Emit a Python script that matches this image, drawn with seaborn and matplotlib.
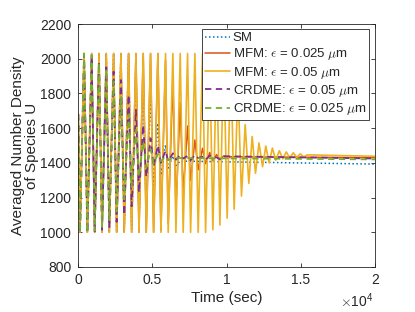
import matplotlib
matplotlib.use("Agg")
import matplotlib.pyplot as plt
import seaborn as sns
import pandas as pd

# ---------------- data ----------------
T_END = 20000
START_VALUE = 1680

# times of the successive troughs and peaks (sec)
TROUGH_T = [115, 610, 1105, 1600, 2090, 2585, 3095, 3595, 4090, 4580, 5075,
            5570, 6060, 6580, 7070, 7570, 8080, 8580, 9070, 9545, 10035,
            10505, 11000, 11495, 11945, 12420, 12860, 13310, 13785, 14255,
            14725, 15200]
PEAK_T = [390, 900, 1395, 1885, 2380, 2875, 3390, 3885, 4375, 4870, 5365,
          5880, 6375, 6870, 7365, 7860, 8375, 8860, 9320, 9800, 10280,
          10760, 11250, 11720, 12180, 12640, 13085, 13550, 14020, 14490,
          14960, 15430]

# SM
SM_TROUGH = [1000, 1000, 1000, 1000, 1000, 1000, 1000, 1020, 1060, 1130,
             1250, 1330, 1370, 1385]
SM_PEAK = [2030, 2030, 2030, 2030, 2030, 2030, 2030, 1960, 1900, 1800,
           1628, 1503, 1440, 1410]
SM_FINAL = 1393

# MFM eps = 0.025
MFM1_TROUGH = [1000, 1000, 1000, 1000, 1000, 1000, 1000, 1000, 1000, 1000,
               1000, 1010, 1050, 1130, 1226, 1300, 1360, 1395, 1412, 1420,
               1425]
MFM1_PEAK = [2030, 2030, 2030, 2030, 2030, 2030, 2030, 2030, 2030, 2030,
             2030, 1990, 1881, 1747, 1612, 1532, 1484, 1460, 1448, 1440,
             1435]
MFM1_FINAL = 1430

# MFM eps = 0.05
MFM2_TROUGH = [1000, 1000, 1000, 1000, 1000, 1000, 1000, 1000, 1000, 1000,
               1000, 1000, 1000, 1000, 1000, 1000, 1000, 1000, 1015, 1042,
               1082, 1133, 1209, 1282, 1340, 1378, 1401, 1415, 1423, 1428,
               1432, 1434]
MFM2_PEAK = [2030, 2030, 2030, 2030, 2030, 2030, 2030, 2030, 2030, 2030,
             2030, 2030, 2030, 2030, 2030, 2030, 2030, 2030, 2030, 2030,
             2030, 1850, 1620, 1552, 1515, 1497, 1485, 1470, 1463, 1458,
             1452, 1446]
MFM2_FINAL = 1438

# CRDME eps = 0.05
CR1_TROUGH = [1000, 1000, 1005, 1015, 1030, 1060, 1100, 1150, 1230, 1320,
              1378, 1400, 1412, 1418, 1425, 1415, 1428, 1418, 1430, 1420]
CR1_PEAK = [2025, 2010, 1985, 1950, 1925, 1877, 1791, 1705, 1618, 1542,
            1500, 1470, 1455, 1445, 1440, 1445, 1435, 1442, 1432, 1438]
CR1_FINAL = 1425

# CRDME eps = 0.025
CR2_TROUGH = [1000, 1000, 1010, 1030, 1070, 1120, 1190, 1260, 1320, 1370,
              1395, 1410, 1415]
CR2_PEAK = [2030, 2020, 1975, 1940, 1870, 1780, 1680, 1590, 1520, 1480,
            1450, 1435, 1428]
CR2_FINAL = 1420

LABELS = ["SM",
          r"MFM: $\epsilon$ = 0.025 $\mu$m",
          r"MFM: $\epsilon$ = 0.05 $\mu$m",
          r"CRDME: $\epsilon$ = 0.05 $\mu$m",
          r"CRDME: $\epsilon$ = 0.025 $\mu$m"]

Y_TICKS = [800, 1000, 1200, 1400, 1600, 1800, 2000, 2200]
X_TICKS = [0, 5000, 10000, 15000, 20000]
X_TICK_LABELS = ["0", "0.5", "1", "1.5", "2"]


def build(troughs, peaks, final):
    t = [0]
    v = [START_VALUE]
    for k in range(len(troughs)):
        t += [TROUGH_T[k], PEAK_T[k]]
        v += [troughs[k], peaks[k]]
    t.append(T_END)
    v.append(final)
    return pd.DataFrame({"t": t, "v": v})


series = [
    (build(SM_TROUGH, SM_PEAK, SM_FINAL), "#0072BD", (0, (1, 1.6)), 1.1),
    (build(MFM1_TROUGH, MFM1_PEAK, MFM1_FINAL), "#D95319", "-", 1.1),
    (build(MFM2_TROUGH, MFM2_PEAK, MFM2_FINAL), "#EDB120", "-", 1.2),
    (build(CR1_TROUGH, CR1_PEAK, CR1_FINAL), "#7E2F8E", (0, (3.5, 2.5)), 1.3),
    (build(CR2_TROUGH, CR2_PEAK, CR2_FINAL), "#77AC30", (0, (3.5, 2.5)), 1.3),
]

# ---------------- style ----------------
sns.set_style("ticks")
plt.rcParams["font.family"] = ["Liberation Sans", "DejaVu Sans"]
plt.rcParams["mathtext.fontset"] = "cm"

fig = plt.figure(figsize=(4.15, 3.12), dpi=100)
ax = fig.add_axes([78.3 / 415, 45 / 312, 296.7 / 415, 243 / 312])

for (df, color, ls, lw), label in zip(series, LABELS):
    sns.lineplot(data=df, x="t", y="v", ax=ax, color=color, linestyle=ls,
                 linewidth=lw, label=label, estimator=None, sort=False)

ax.set_xlim(0, 20000)
ax.set_ylim(800, 2200)
ax.set_xticks(X_TICKS)
ax.set_xticklabels(X_TICK_LABELS)
ax.set_yticks(Y_TICKS)
ax.set_yticklabels([str(y) for y in Y_TICKS])

axis_col = "#262626"
for sp in ax.spines.values():
    sp.set_visible(True)
    sp.set_color(axis_col)
    sp.set_linewidth(0.6)
ax.tick_params(direction="in", length=3, width=0.6, colors=axis_col,
               labelsize=10, top=True, right=True, pad=4)
ax.tick_params(axis="y", pad=5)

ax.set_xlabel("Time (sec)", fontsize=11, color=axis_col, labelpad=3)
ax.set_ylabel("Averaged Number Density\nof Species U", fontsize=11,
              color=axis_col, labelpad=1, linespacing=1.0)

ax.text(0.997, -0.163, r"$\times\mathregular{10}^{\mathregular{4}}$",
        transform=ax.transAxes, ha="right", va="baseline", fontsize=10,
        color=axis_col)

leg = ax.legend(loc="upper right", bbox_to_anchor=(0.979, 0.979),
                borderaxespad=0, fontsize=9.5, frameon=True, fancybox=False,
                framealpha=1, edgecolor=axis_col, handlelength=1.9,
                handletextpad=0.2, labelspacing=0.17, borderpad=0.22)
leg.get_frame().set_linewidth(0.6)

fig.savefig("out.png", dpi=100)
